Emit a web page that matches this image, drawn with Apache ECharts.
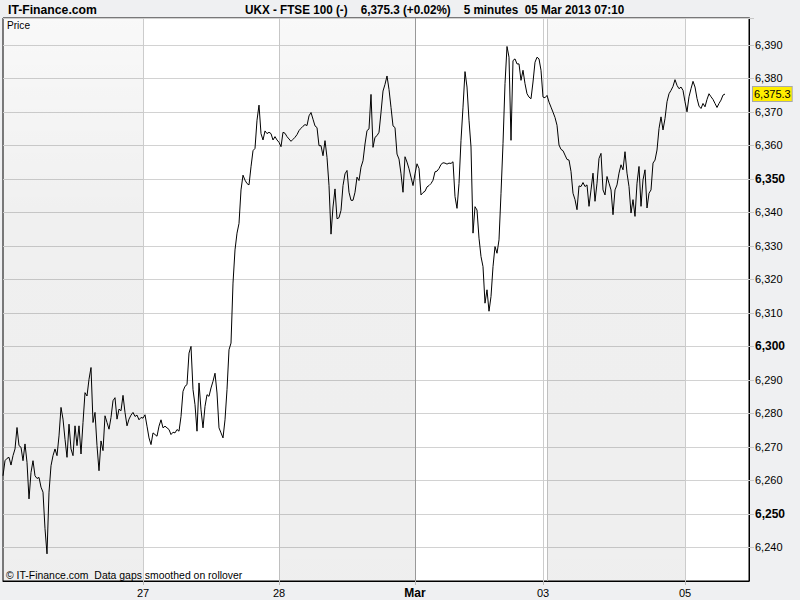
<!DOCTYPE html>
<html>
<head>
<meta charset="utf-8">
<title>UKX - FTSE 100</title>
<script src="https://cdn.jsdelivr.net/npm/echarts@6/dist/echarts.min.js"></script>
<style>
html, body { margin: 0; padding: 0; background: #eff0f2; }
#chart { width: 800px; height: 600px; }
</style>
</head>
<body>
<div id="chart"></div>
<script>
// 5 minute FTSE 100 prices from left to right
const prices1 = [
  6261.4, 6265.9, 6266.6, 6266.9, 6264.6, 6267.4, 6269.4, 6275.8, 6270.4, 6269.9,
  6265.9, 6270.9, 6265.4, 6254.5, 6262.4, 6265.9, 6261.4, 6260.6, 6260.9, 6258.0,
  6256.5, 6245.6, 6238.1, 6256.5, 6264.4, 6267.4, 6269.4, 6267.4, 6273.3, 6281.8,
  6278.3, 6272.3, 6266.9, 6276.8, 6269.4, 6267.4, 6276.3, 6270.4, 6276.3, 6267.9,
  6277.3, 6286.2, 6285.2, 6290.2, 6293.7, 6277.3, 6280.3, 6270.4, 6262.9, 6271.8,
  6268.9, 6279.3, 6277.3, 6275.3, 6278.8, 6283.8, 6284.7, 6278.3, 6281.3, 6280.8,
  6285.4, 6280.3, 6276.3, 6278.3, 6279.5, 6280.3, 6279.1, 6279.5, 6278.1, 6278.8
];
const prices2 = [
  6278.6, 6279.6, 6276.2, 6272.7, 6270.7, 6274.2, 6273.7, 6273.2, 6276.2, 6278.1,
  6275.7, 6276.2, 6275.7, 6275.2, 6273.7, 6274.4, 6274.2, 6275.2, 6274.7, 6279.1,
  6286.6, 6288.1, 6288.6, 6298.0, 6300.0, 6287.1, 6282.6, 6274.7, 6289.1, 6281.1,
  6275.7, 6282.1, 6285.6, 6285.1, 6287.6, 6289.6, 6292.0, 6286.1, 6275.7, 6274.2,
  6272.7, 6278.1, 6287.1, 6299.0, 6301.0, 6318.9, 6328.8, 6333.8, 6336.7, 6346.7,
  6351.1, 6349.6, 6348.6, 6348.2, 6353.6, 6358.4, 6359.1, 6367.5, 6372.0, 6363.5,
  6361.6, 6364.3, 6363.5, 6363.9, 6363.5, 6361.6, 6362.6, 6361.6
];
const prices3 = [
  6360.9, 6359.6, 6363.9, 6363.6, 6362.6, 6361.9, 6361.2, 6361.8, 6362.4, 6363.2,
  6364.4, 6365.1, 6365.7, 6366.2, 6365.9, 6368.8, 6369.8, 6367.8, 6365.8, 6365.3,
  6359.9, 6359.9, 6356.9, 6361.4, 6356.4, 6348.0, 6333.5, 6341.6, 6347.0, 6338.1,
  6338.4, 6340.6, 6348.0, 6351.5, 6352.5, 6346.0, 6343.6, 6343.6, 6346.0, 6350.5,
  6349.5, 6353.5, 6355.4, 6360.4, 6364.4, 6364.9, 6375.2, 6359.4, 6362.4, 6362.9,
  6363.9, 6369.8, 6376.2, 6378.2, 6380.7, 6376.7, 6371.3, 6365.8, 6365.3, 6357.4,
  6355.9, 6351.5, 6346.0, 6356.6, 6355.0, 6353.0, 6350.5, 6348.0, 6351.5, 6354.5
];
const prices4 = [
  6353.1, 6345.2, 6345.9, 6346.3, 6347.6, 6348.0, 6348.6, 6349.6, 6352.1, 6352.3,
  6353.1, 6354.3, 6354.8, 6354.7, 6354.4, 6354.7, 6354.6, 6355.1, 6344.7, 6341.2,
  6348.6, 6361.5, 6371.4, 6382.0, 6377.4, 6367.5, 6359.5, 6333.8, 6341.7, 6340.7,
  6332.3, 6326.8, 6323.8, 6312.9, 6316.9, 6310.5, 6314.9, 6323.8, 6329.8, 6327.8,
  6331.8, 6345.7, 6360.5, 6378.4, 6389.5, 6386.3, 6361.5, 6385.3, 6385.8, 6384.3,
  6384.3, 6379.4, 6382.4, 6378.4, 6375.4, 6374.4, 6373.9, 6378.9, 6384.8, 6386.3,
  6385.8, 6382.4, 6374.4, 6374.2, 6374.9, 6372.9, 6371.4, 6369.9, 6368.3, 6366.0
];
const prices5 = [
  6360.1, 6358.8, 6358.4, 6357.1, 6355.8, 6355.6, 6352.2, 6345.7, 6343.8, 6340.8,
  6347.9, 6347.7, 6348.9, 6347.7, 6348.2, 6341.8, 6346.7, 6351.7, 6343.3, 6348.7,
  6356.1, 6357.6, 6346.7, 6345.2, 6350.7, 6348.7, 6346.7, 6339.3, 6346.7, 6348.2,
  6351.7, 6354.2, 6352.7, 6358.1, 6351.7, 6347.7, 6339.8, 6343.8, 6338.8, 6348.7,
  6353.7, 6341.8, 6349.7, 6352.7, 6341.3, 6345.7, 6346.7, 6354.7, 6355.6, 6358.6,
  6365.0, 6368.5, 6364.6, 6368.0, 6373.0, 6375.4, 6376.4, 6377.6, 6379.6, 6377.9,
  6376.9, 6377.4, 6376.4, 6373.0, 6370.0, 6374.5, 6376.9, 6379.1, 6377.4, 6374.0,
  6371.7, 6371.0, 6372.5, 6371.5, 6373.7, 6375.4, 6374.5, 6373.7, 6372.5, 6371.3,
  6372.5, 6373.5, 6375.0, 6375.3
];
const prices = [].concat(prices1, prices2, prices3, prices4, prices5);

// x axis: bar slots, day labels sit on these slots
const slotCount = 374;
const dayLabels = ['27', '28', 'Mar', '03', '05'];
const daySlots = [70, 138, 206, 270, 341];
const mondayOpen = 272;
const shadedDays = [[0, 70], [138, 206], [272, 341]];

const lastPrice = prices[prices.length - 1];
const changePct = '+0.02%';

const slots = Array.from({ length: slotCount }, (_, i) => String(i));
const lineSlots = daySlots.concat([mondayOpen]).sort((a, b) => a - b);

function fmt(v, dec) {
  const parts = v.toFixed(dec).split('.');
  parts[0] = parts[0].replace(/\B(?=(\d{3})+(?!\d))/g, ',');
  return parts.join('.');
}

const sans = "'Liberation Sans', Arial, sans-serif";
const chart = echarts.init(document.getElementById('chart'), null, { renderer: 'svg' });

chart.setOption({
  animation: false,
  backgroundColor: '#eff0f2',
  // header / footer texts, squeezed a little to look like the narrow font of the original
  graphic: [
    { type: 'text', x: 8, y: 3, scaleX: 0.94, z: 100,
      style: { text: 'IT-Finance.com', font: 'bold 13px ' + sans, fill: '#000' } },
    { type: 'text', x: 245, y: 3, scaleX: 0.9, z: 100,
      style: { text: 'UKX - FTSE 100 (-)    ' + fmt(lastPrice, 1) + ' (' + changePct + ')    5 minutes  05 Mar 2013 07:10',
               font: 'bold 13px ' + sans, fill: '#000' } },
    { type: 'text', x: 7, y: 19, scaleX: 0.92, z: 100,
      style: { text: 'Price', font: '11px ' + sans, fill: '#000' } },
    { type: 'text', x: 6, y: 569, scaleX: 0.95, z: 100,
      style: { text: '\u00a9 IT-Finance.com  Data gaps smoothed on rollover', font: '11px ' + sans, fill: '#000' } }
  ],
  grid: {
    left: 3, right: 51, top: 18, bottom: 19,
    show: true, backgroundColor: '#fff', borderColor: '#000', borderWidth: 1
  },
  xAxis: {
    type: 'category',
    data: slots,
    boundaryGap: false,
    axisLine: { show: true, lineStyle: { color: '#000', width: 1 } },
    axisTick: { show: true, length: 4, interval: (i) => daySlots.includes(i), lineStyle: { color: '#bbb' } },
    axisLabel: {
      interval: (i) => daySlots.includes(i),
      margin: 6,
      fontFamily: sans, fontSize: 11, color: '#000',
      formatter: (v, i) => {
        const k = daySlots.indexOf(i);
        if (k < 0) return '';
        return dayLabels[k] === 'Mar' ? '{b|Mar}' : dayLabels[k];
      },
      rich: { b: { fontFamily: sans, fontSize: 12, fontWeight: 'bold', color: '#000' } }
    },
    splitLine: {
      show: true,
      interval: (i) => lineSlots.includes(i),
      lineStyle: { color: ['#cccccc', '#cccccc', '#999999', '#cccccc', '#cccccc', '#cccccc'], width: 1 }
    }
  },
  yAxis: {
    type: 'value',
    position: 'right',
    min: 6230, max: 6398, interval: 10,
    axisLine: { show: true, lineStyle: { color: '#000', width: 1 } },
    axisTick: { show: true, length: 5, lineStyle: { color: '#c8c8c8' } },
    axisLabel: {
      margin: 6,
      showMinLabel: false,
      fontFamily: sans, fontSize: 11, color: '#000',
      formatter: (v) => {
        if (v % 10 !== 0 || v <= 6230) return '';
        return v % 50 === 0 ? '{b|' + fmt(v, 0) + '}' : fmt(v, 0);
      },
      rich: { b: { fontFamily: sans, fontSize: 12, fontWeight: 'bold', color: '#000' } }
    },
    splitLine: { show: true, lineStyle: { color: '#d2d2d2', width: 1 } }
  },
  series: [{
    type: 'line',
    data: prices,
    showSymbol: false,
    silent: true,
    lineStyle: { color: '#000', width: 1 },
    markArea: {
      silent: true,
      itemStyle: {
        color: {
          type: 'linear', x: 0, y: 0, x2: 0, y2: 1,
          colorStops: [
            { offset: 0, color: 'rgba(0,0,0,0.025)' },
            { offset: 0.35, color: 'rgba(0,0,0,0.06)' },
            { offset: 1, color: 'rgba(0,0,0,0.065)' }
          ]
        }
      },
      data: shadedDays.map(([a, b]) => [{ xAxis: a }, { xAxis: b }])
    },
    markLine: {
      silent: true,
      symbol: 'none',
      lineStyle: { width: 0, color: 'rgba(0,0,0,0)' },
      label: {
        show: true,
        position: 'end', distance: 4,
        formatter: (p) => fmt(p.value, 1),
        fontFamily: sans, fontSize: 11, color: '#000',
        backgroundColor: '#ffee00', borderColor: '#a8a8a8', borderWidth: 1,
        padding: [2, 1, 1, 1]
      },
      data: [{ yAxis: lastPrice }]
    }
  }]
});
</script>
</body>
</html>
